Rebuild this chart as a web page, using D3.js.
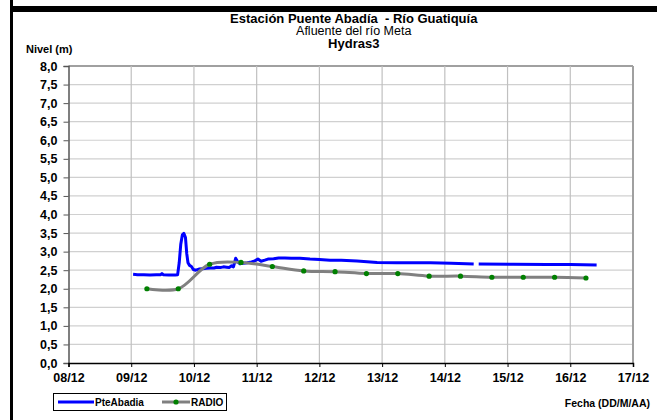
<!DOCTYPE html>
<html>
<head>
<meta charset="utf-8">
<script src="https://cdn.jsdelivr.net/npm/d3@7"></script>
<style>
  html, body { margin: 0; padding: 0; background: #fff; }
  svg { display: block; }
  text { font-family: "Liberation Sans", Arial, sans-serif; }
</style>
</head>
<body>
<svg id="chart" width="657" height="420"></svg>
<script>
// ---- data ----
const xTickLabels = ["08/12","09/12","10/12","11/12","12/12","13/12","14/12","15/12","16/12","17/12"];
const xTickDays = [8,9,10,11,12,13,14,15,16,17];
const yTickValues = d3.range(0, 8.01, 0.5);

// PteAbadia (blue) — day of month (fractional) and level in m; null = gap
const pteDay = [9.03,9.10,9.20,9.30,9.40,9.47,9.49,9.51,9.60,9.70,9.74,9.765,9.79,9.815,9.84,9.865,9.885,9.905,9.93,9.96,9.99,
  10.03,10.08,10.14,10.20,10.26,10.32,10.36,10.42,10.47,10.52,10.56,10.60,10.63,10.665,10.70,10.735,10.79,10.85,10.92,10.97,
  11.02,11.07,11.13,11.18,11.27,11.35,11.45,11.55,11.69,11.85,12.00,12.17,12.35,12.60,12.92,13.23,13.50,13.77,14.10,14.46,
  14.50,14.54,15.09,15.63,16.00,16.42];
const pteLevel = [2.39,2.38,2.38,2.37,2.38,2.38,2.41,2.38,2.37,2.37,2.38,2.70,3.20,3.45,3.49,3.38,2.95,2.70,2.63,2.60,2.52,
  2.50,2.53,2.54,2.55,2.56,2.56,2.58,2.57,2.59,2.58,2.57,2.62,2.59,2.82,2.72,2.67,2.69,2.70,2.72,2.75,
  2.80,2.74,2.77,2.80,2.81,2.83,2.83,2.82,2.82,2.80,2.79,2.77,2.77,2.75,2.71,2.70,2.70,2.70,2.69,2.67,
  null,2.67,2.66,2.65,2.65,2.64];

// RADIO (gray with green markers)
const radioDay = [9.25,9.75,10.25,10.75,11.25,11.75,12.25,12.75,13.25,13.75,14.25,14.75,15.25,15.75,16.25];
const radioLevel = [2.00,2.00,2.66,2.71,2.60,2.48,2.46,2.41,2.41,2.34,2.34,2.31,2.31,2.31,2.29];

// ---- layout ----
const svg = d3.select("#chart");
const L = 68.5, R = 633, T = 66, B = 363;
const x = d3.scaleLinear().domain([8, 17]).range([L, R]);
const y = d3.scaleLinear().domain([0, 8]).range([B, T]);
const fmt = d3.formatLocale({decimal: ",", thousands: ".", grouping: [3], currency: ["", ""]}).format(".1f");

// frame
svg.append("rect").attr("x", 11).attr("y", 6).attr("width", 646).attr("height", 6).attr("fill", "#000");
svg.append("rect").attr("x", 10).attr("y", 0).attr("width", 3).attr("height", 420).attr("fill", "#000");

// gridlines
svg.append("g").selectAll("line").data(yTickValues.filter(v => v > 0)).join("line")
  .attr("x1", L).attr("x2", R).attr("y1", d => y(d)).attr("y2", d => y(d))
  .attr("stroke", v => v === 8 ? "#a0a0a0" : "#d0d0d0").attr("stroke-width", v => v === 8 ? 2 : 1.2);
svg.append("g").selectAll("line").data(xTickDays.filter(d => d > 8 && d < 17)).join("line")
  .attr("x1", d => x(d)).attr("x2", d => x(d)).attr("y1", T).attr("y2", B)
  .attr("stroke", "#c0c0c0").attr("stroke-width", 1.2);
svg.append("line").attr("x1", R).attr("x2", R).attr("y1", T).attr("y2", B)
  .attr("stroke", "#a0a0a0").attr("stroke-width", 2);

// axes
const yAxis = d3.axisLeft(y).tickValues(yTickValues).tickFormat(fmt).tickSize(5).tickPadding(6);
const gy = svg.append("g").attr("transform", `translate(${L},0)`).call(yAxis);
gy.select(".domain").attr("stroke", "#555").attr("stroke-width", 1.5);
gy.selectAll(".tick line").attr("stroke", "#555");
gy.selectAll("text").attr("font-size", 12.5).attr("font-weight", "bold").attr("fill", "#000")
  .attr("font-family", "'Liberation Sans', Arial, sans-serif");

const xAxis = d3.axisBottom(x).tickValues(xTickDays).tickFormat((d, i) => xTickLabels[i]).tickSize(4).tickPadding(6);
const gx = svg.append("g").attr("transform", `translate(0,${B})`).call(xAxis);
gx.select(".domain").attr("stroke", "#000").attr("stroke-width", 1.5);
gx.selectAll(".tick line").attr("stroke", "#000");
gx.selectAll("text").attr("font-size", 12.5).attr("font-weight", "bold").attr("fill", "#000")
  .attr("font-family", "'Liberation Sans', Arial, sans-serif");

// series
const pteData = pteDay.map((d, i) => ({d, v: pteLevel[i]}));
svg.append("path").datum(pteData)
  .attr("fill", "none").attr("stroke", "#0000ff").attr("stroke-width", 3).attr("stroke-linejoin", "round")
  .attr("d", d3.line().defined(p => p.v !== null).x(p => x(p.d)).y(p => y(p.v)));

const radioData = radioDay.map((d, i) => ({d, v: radioLevel[i]}));
svg.append("path").datum(radioData)
  .attr("fill", "none").attr("stroke", "#808080").attr("stroke-width", 3)
  .attr("d", d3.line().curve(d3.curveCatmullRom.alpha(0.5)).x(p => x(p.d)).y(p => y(p.v)));
svg.append("g").selectAll("circle").data(radioData).join("circle")
  .attr("cx", p => x(p.d)).attr("cy", p => y(p.v)).attr("r", 2.6).attr("fill", "#008000");

// titles
const cx = (L + R) / 2 + 3;
svg.append("text").attr("x", cx).attr("y", 22.5).attr("text-anchor", "middle")
  .attr("font-size", 13).attr("font-weight", "bold")
  .style("white-space", "pre").text("Estación Puente Abadía  - Río Guatiquía");
svg.append("text").attr("x", cx).attr("y", 35).attr("text-anchor", "middle")
  .attr("font-size", 12.5).text("Afluente del río Meta");
svg.append("text").attr("x", cx).attr("y", 47.5).attr("text-anchor", "middle")
  .attr("font-size", 13).attr("font-weight", "bold").text("Hydras3");
svg.append("text").attr("x", 26).attr("y", 53)
  .attr("font-size", 11).attr("font-weight", "bold").text("Nivel (m)");
svg.append("text").attr("x", 650).attr("y", 407).attr("text-anchor", "end")
  .attr("font-size", 10.5).attr("font-weight", "bold").text("Fecha (DD/M/AA)");

// legend
const lg = svg.append("g");
lg.append("rect").attr("x", 53.5).attr("y", 393.5).attr("width", 173).attr("height", 17)
  .attr("fill", "#fff").attr("stroke", "#000").attr("stroke-width", 1);
lg.append("line").attr("x1", 58).attr("x2", 94).attr("y1", 402).attr("y2", 402)
  .attr("stroke", "#0000ff").attr("stroke-width", 3);
lg.append("text").attr("x", 95).attr("y", 406).attr("font-size", 10).attr("font-weight", "bold").text("PteAbadia");
lg.append("line").attr("x1", 162).attr("x2", 190).attr("y1", 402).attr("y2", 402)
  .attr("stroke", "#808080").attr("stroke-width", 3);
lg.append("circle").attr("cx", 176).attr("cy", 402).attr("r", 2.6).attr("fill", "#008000");
lg.append("text").attr("x", 191).attr("y", 406).attr("font-size", 10).attr("font-weight", "bold").text("RADIO");
</script>
</body>
</html>
